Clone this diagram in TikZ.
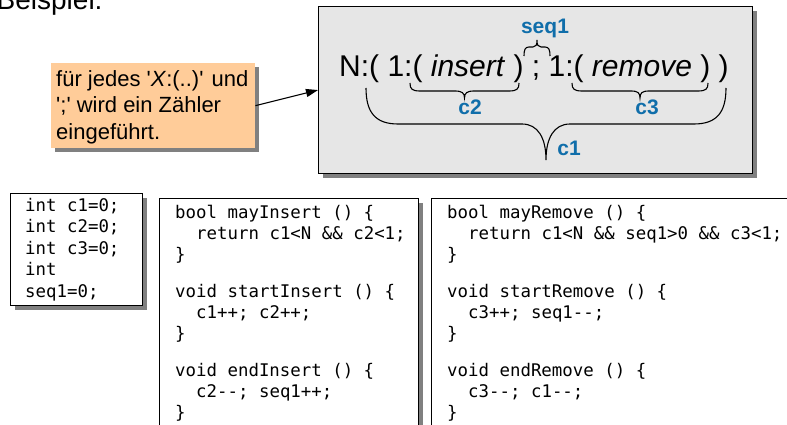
\documentclass[tikz,border=0pt]{standalone}
\usepackage{fontspec}
\setmainfont{Liberation Sans}
\setmonofont{DejaVu Sans Mono}
\usetikzlibrary{shadows,arrows.meta}
\definecolor{peach}{RGB}{255,204,153}
\definecolor{panelgray}{RGB}{230,230,230}
\definecolor{labelblue}{RGB}{16,110,170}
\definecolor{shadowgray}{RGB}{128,128,128}
\begin{document}
\begin{tikzpicture}[x=1pt,y=-1pt,
  shadowed/.style={drop shadow={shadow xshift=4pt,shadow yshift=-4pt,fill=shadowgray,opacity=1}},
  codebox/.style={shadowed,draw=black,line width=1.1pt,fill=white,anchor=north west,inner sep=0pt},
  notebox/.style={shadowed,fill=peach,anchor=north west,inner sep=0pt},
  panel/.style={shadowed,draw=black,line width=1.1pt,fill=panelgray,anchor=north west,inner sep=0pt},
  txt/.style={anchor=base west,inner sep=0pt,font=\fontsize{22}{26}\selectfont},
  formula/.style={anchor=base west,inner sep=0pt,font=\fontsize{30}{34}\selectfont},
  lbl/.style={anchor=base,inner sep=0pt,text=labelblue,font=\fontsize{21}{24}\selectfont\bfseries},
  code/.style={anchor=base west,inner sep=0pt,font=\ttfamily\fontsize{17.4}{21}\selectfont\frenchspacing},
  brace/.style={draw=black,line width=1.1pt},
]
\useasboundingbox (0,0) rectangle (787,425);
\clip (0,0) rectangle (787,425);

% title
\node[anchor=base west,inner sep=0pt,font=\fontsize{28}{32}\selectfont] (title) at (-3.5,10) {Beispiel:};

% note box
\node[notebox,minimum width=204pt,minimum height=85pt] (note) at (51,63) {};
\node[txt] (n1) at (56,87) {für jedes \textquotesingle\textit{X}:(..)\textquotesingle{} und};
\node[txt] (n2) at (56,113) {\textquotesingle;\textquotesingle{} wird ein Zähler};
\node[txt] (n3) at (56,140) {eingeführt.};

% formula panel
\node[panel,minimum width=434pt,minimum height=167pt] (panel) at (318,6) {};
\node[formula] (formula) at (339,77) {N:( 1:( \textit{insert} ) ; 1:( \textit{remove} ) )};

\draw[line width=1.1pt,-{Triangle[length=12pt,width=8pt]}] (note.east) -- (panel.west);

% braces
% seq1 (upward)
\draw[brace] (524,56) .. controls (524,50) and (525,47) .. (529,47) -- (533,47)
  .. controls (536,47) and (537,45) .. (537,40)
  .. controls (537,45) and (538,47) .. (541,47) -- (545,47)
  .. controls (549,47) and (550,50) .. (550,56);
\node[lbl] (seq1) at (545,34) {seq1};
% c2
\draw[brace] (410,83) .. controls (410,89) and (412,91) .. (420,91) -- (455,91)
  .. controls (462,91) and (464.5,93) .. (464.5,98)
  .. controls (464.5,93) and (467,91) .. (474,91) -- (509,91)
  .. controls (517,91) and (519,89) .. (519,83);
\node[lbl] (c2) at (470,115) {c2};
% c3
\draw[brace] (572,83) .. controls (572,89) and (574,91) .. (582,91) -- (631,91)
  .. controls (638,91) and (640,93) .. (640,98)
  .. controls (640,93) and (642,91) .. (649,91) -- (698,91)
  .. controls (706,91) and (708,89) .. (708,83);
\node[lbl] (c3) at (647,115) {c3};
% c1
\draw[brace] (366,88) .. controls (366,112) and (375,124) .. (398,124) -- (522,124)
  .. controls (538,124) and (546,138) .. (546,160)
  .. controls (546,138) and (554,124) .. (570,124) -- (694,124)
  .. controls (717,124) and (726,112) .. (726,88);
\node[lbl] (c1) at (569,155) {c1};

% code boxes
\node[codebox,minimum width=132pt,minimum height=112pt] (vars) at (10,193) {};
\node[code] (v1) at (25,211) {int c1=0;};
\node[code] (v2) at (25,232.5) {int c2=0;};
\node[code] (v3) at (25,254) {int c3=0;};
\node[code] (v4) at (25,275.5) {int};
\node[code] (v5) at (25,297) {seq1=0;};

\node[codebox,minimum width=259pt,minimum height=260pt] (ins) at (159,198) {};
\node[code] (i1) at (175,218) {bool mayInsert () \{};
\node[code] (i2) at (196,239) {return c1<N \&\& c2<1;};
\node[code] (i3) at (175,260) {\}};
\node[code] (i4) at (175,297) {void startInsert () \{};
\node[code] (i5) at (196,318) {c1++; c2++;};
\node[code] (i6) at (175,339) {\}};
\node[code] (i7) at (175,376) {void endInsert () \{};
\node[code] (i8) at (196,397) {c2--; seq1++;};
\node[code] (i9) at (175,418) {\}};

\node[codebox,minimum width=400pt,minimum height=260pt] (rem) at (431,198) {};
\node[code] (r1) at (447,218) {bool mayRemove () \{};
\node[code] (r2) at (468,239) {return c1<N \&\& seq1>0 \&\& c3<1;};
\node[code] (r3) at (447,260) {\}};
\node[code] (r4) at (447,297) {void startRemove () \{};
\node[code] (r5) at (468,318) {c3++; seq1--;};
\node[code] (r6) at (447,339) {\}};
\node[code] (r7) at (447,376) {void endRemove () \{};
\node[code] (r8) at (468,397) {c3--; c1--;};
\node[code] (r9) at (447,418) {\}};
\end{tikzpicture}
\end{document}
